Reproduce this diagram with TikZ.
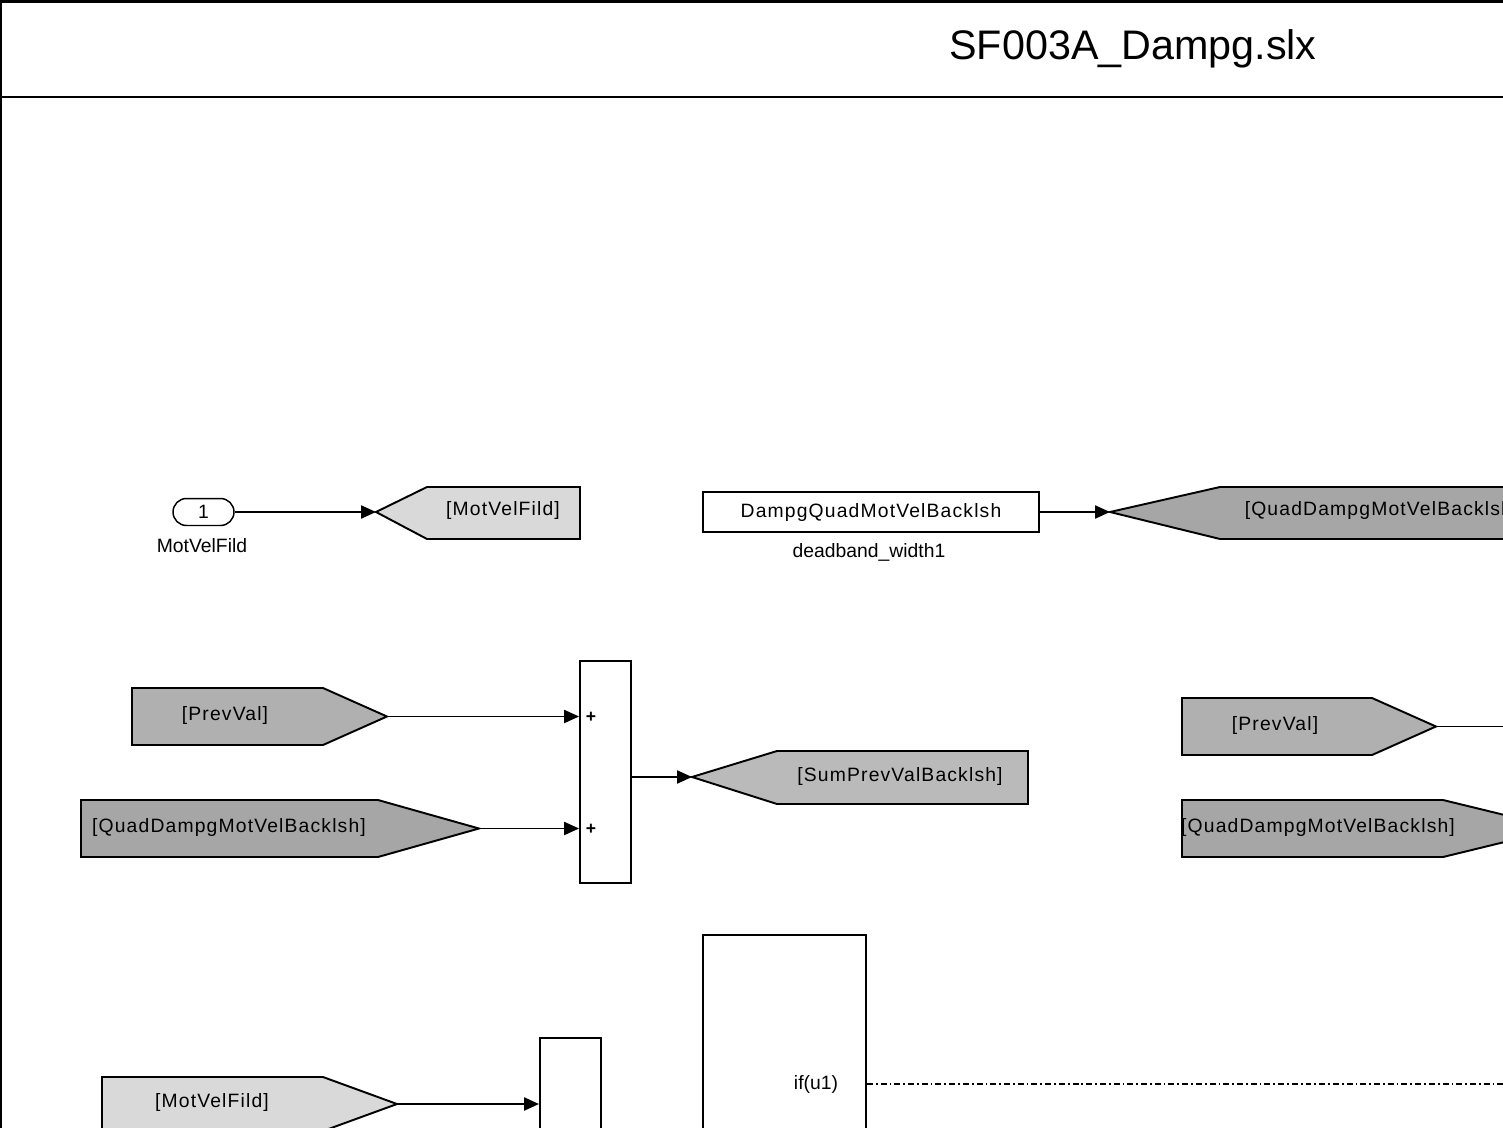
\documentclass[tikz,border=0pt]{standalone}
\usepackage{fontspec}
\setmainfont{Liberation Sans}
\newfontfamily\tagfont[LetterSpace=6]{Liberation Sans}
\usetikzlibrary{arrows.meta}

\definecolor{tagA}{gray}{0.85}
\definecolor{tagB}{gray}{0.65}
\definecolor{tagC}{gray}{0.69}
\definecolor{tagD}{gray}{0.73}

\begin{document}
\begin{tikzpicture}[x=0.02cm, y=-0.02cm, line width=0.85pt,
    every node/.style={inner sep=0pt, font=\fontsize{11}{13}\selectfont},
    sig/.style={-{Triangle[length=8.5pt, width=7.5pt]}},
    blk/.style={draw, line width=1.1pt},
    tag/.style={draw, line width=1.1pt},
    tagtxt/.style={font=\tagfont\fontsize{11}{13}\selectfont}]
        \clip (0,0) rectangle (1503,1128);

        \draw[line width=1.7pt] (0,1.5) -- (1503,1.5);
        \draw[line width=0.6pt] (1,0) -- (1,1128);
        \draw[line width=1.7pt] (0,97) -- (1503,97);
        \node (T) at (1133,49) {\fontsize{23.5}{28}\selectfont SF003A\_Dampg.slx};

        \node (In1) [draw, rounded corners=0.27cm, minimum width=1.22cm, minimum height=0.54cm] at (203.5,512) {1};
        \node (In1L) at (202,546) {MotVelFild};

        \node (C) [blk, minimum width=6.72cm, minimum height=0.8cm, tagtxt] at (871,512) {DampgQuadMotVelBacklsh};
        \node (CL) at (869,552) {deadband\_width1};

        \node (Sum) [blk, minimum width=1.02cm, minimum height=4.44cm] at (605.5,772) {};
        \node (S1) at (591,717) {\fontsize{10}{11}\selectfont\bfseries +};
        \node (S2) at (591,829) {\fontsize{10}{11}\selectfont\bfseries +};

        \node (B) [blk, minimum width=1.22cm, minimum height=2.44cm] at (570.5,1099) {};
        \node (If) [blk, minimum width=3.26cm, minimum height=4.5cm] at (784.5,1047.5) {};
        \node (IfL) at (816,1084) {if(u1)};

        % goto tags
        \draw[tag, fill=tagA] (376,512) -- (427,487) -- (580,487) -- (580,539) -- (427,539) -- cycle;
        \coordinate (G1in) at (376,512);
        \node[tagtxt] (G1) at (503,511) {[MotVelFild]};

        \draw[tag, fill=tagB] (1110,512) -- (1220,487) -- (1560,487) -- (1560,539) -- (1220,539) -- cycle;
        \coordinate (G2in) at (1110,512);
        \node[tagtxt, anchor=west] (G2) at (1244,511) {[QuadDampgMotVelBacklsh]};

        \draw[tag, fill=tagD] (692,777) -- (777,751) -- (1028,751) -- (1028,804) -- (777,804) -- cycle;
        \coordinate (G3in) at (692,777);
        \node[tagtxt] (G3) at (900,776) {[SumPrevValBacklsh]};

        % from tags
        \draw[tag, fill=tagC] (132,688) -- (323,688) -- (387,716.5) -- (323,745) -- (132,745) -- cycle;
        \coordinate (F1out) at (387,716.5);
        \node[tagtxt] (F1) at (225,715) {[PrevVal]};

        \draw[tag, fill=tagB] (81,800) -- (378,800) -- (479,828.5) -- (378,857) -- (81,857) -- cycle;
        \coordinate (F2out) at (479,828.5);
        \node[tagtxt] (F2) at (229,827) {[QuadDampgMotVelBacklsh]};

        \draw[tag, fill=tagC] (1182,698) -- (1372,698) -- (1436,726.5) -- (1372,755) -- (1182,755) -- cycle;
        \coordinate (F3out) at (1436,726.5);
        \node[tagtxt] (F3) at (1275,725) {[PrevVal]};

        \draw[tag, fill=tagB] (1182,800) -- (1443,800) -- (1560,828.5) -- (1443,857) -- (1182,857) -- cycle;
        \node[tagtxt] (F4) at (1318,827) {[QuadDampgMotVelBacklsh]};

        \draw[tag, fill=tagA] (102,1077) -- (323,1077) -- (397,1104) -- (323,1131) -- (102,1131) -- cycle;
        \coordinate (F5out) at (397,1104);
        \node[tagtxt] (F5) at (212,1102) {[MotVelFild]};

        \coordinate (R1) at (1510,726.5);
        \coordinate (IfOut) at (If.east |- IfL);
        \coordinate (R2) at (1510,1083);

        \draw[sig] (In1) -- (G1in);
        \draw[sig] (C) -- (G2in);
        \draw[sig] (F1out) -- (F1out -| Sum.west);
        \draw[sig] (F2out) -- (F2out -| Sum.west);
        \draw[sig] (Sum.east |- G3in) -- (G3in);
        \draw (F3out) -- (R1);
        \draw[sig] (F5out) -- (F5out -| B.west);
        \draw[line width=0.6pt, dash pattern=on 3.4pt off 1.7pt on 1pt off 1.7pt] (IfOut) -- (IfOut -| R2);
      \end{tikzpicture}
\end{document}
